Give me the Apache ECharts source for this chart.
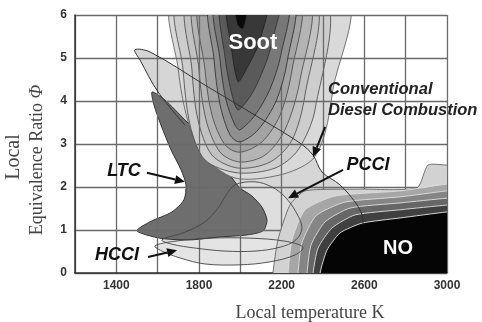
<!DOCTYPE html>
<html><head><meta charset="utf-8">
<script src="https://cdn.jsdelivr.net/npm/echarts@6/dist/echarts.min.js"></script>
<style>html,body{margin:0;padding:0;background:#fff}#c{width:482px;height:322px}</style>
</head><body><div id="c"></div>
<script>
// Axis tick labels
const xTicks = [1400, 1800, 2200, 2600, 3000];
const yTicks = [0, 1, 2, 3, 4, 5, 6];

// Region outlines as [Temperature K, Equivalence ratio]
const lobe = [[1732,3.44],[1602,4.21],[1515,4.95],[1490,5.19],[1563,5.14],[1829,4.37],[2095,3.60],[2289,3.02],[2352,2.74],[2395,2.35],[2482,2.05],[2555,1.65],[2589,1.35],[2594,1.12],[2569,0.86],[2482,0.67],[2337,0.58],[2192,0.58],[2047,0.65],[1950,1.35],[1877,2.05],[1829,2.63]];
const pcci = [[1621,0.77],[1732,0.95],[1829,1.19],[1892,1.51],[1931,1.81],[1974,2.05],[2071,2.12],[2153,2.00],[2216,1.77],[2269,1.42],[2298,1.05],[2269,0.77],[2192,0.60],[2071,0.51],[1926,0.51],[1781,0.58],[1669,0.67]];
const hcci = [[1587,0.63],[1684,0.74],[1853,0.81],[2047,0.81],[2216,0.74],[2303,0.60],[2265,0.42],[2144,0.26],[1998,0.19],[1829,0.21],[1708,0.35],[1621,0.51]];
const ltc = [[1573,4.21],[1636,4.02],[1732,3.56],[1829,3.09],[1902,2.63],[1960,2.21],[1998,1.98],[2056,1.79],[2105,1.53],[2129,1.23],[2110,0.98],[2023,0.88],[1902,0.84],[1757,0.77],[1611,0.81],[1500,0.98],[1563,1.19],[1669,1.42],[1727,1.70],[1737,2.05],[1713,2.40],[1665,2.86],[1616,3.44],[1582,3.91]];
const soot0 = [[1682,6.4],[1700,4.72],[1745,3.56],[1820,2.74],[1974,2.21],[2192,2.28],[2347,2.63],[2410,3.26],[2448,4.26],[2510,6.4]];
const soot1 = [[1706,6.4],[1723,4.72],[1757,3.44],[1829,2.63],[1984,2.33],[2168,2.44],[2279,2.86],[2361,3.79],[2403,6.4]];
const soot2 = [[1755,6.4],[1766,4.72],[1795,3.56],[1863,2.74],[1989,2.44],[2144,2.58],[2250,3.09],[2313,4.14],[2355,6.4]];
const soot3 = [[1788,6.4],[1800,4.72],[1834,3.56],[1902,2.81],[1998,2.58],[2119,2.74],[2216,3.33],[2289,4.49],[2325,6.4]];
const soot4 = [[1813,6.4],[1829,4.72],[1863,3.67],[1926,2.98],[1998,2.81],[2105,3.05],[2192,3.67],[2250,4.72],[2280,6.4]];
const soot5 = [[1861,6.4],[1873,4.95],[1902,3.91],[1950,3.21],[1998,3.05],[2086,3.33],[2175,4.02],[2228,4.95],[2252,6.4]];
const soot6 = [[1885,6.4],[1902,4.95],[1931,4.02],[1974,3.44],[1998,3.33],[2071,3.67],[2142,4.26],[2196,5.07],[2224,6.4]];
const soot7 = [[1909,6.4],[1928,4.95],[1960,4.14],[1989,3.79],[2060,4.20],[2125,4.90],[2160,5.50],[2188,6.4]];
const soot8 = [[1936,6.4],[1955,5.30],[1989,4.45],[2030,4.75],[2090,5.35],[2132,6.4]];
const soot9 = [[1972,6.4],[1989,5.77],[2013,5.70],[2034,6.4]];
const no1 = [[2158,-0.4],[2158,0],[2182,0.77],[2240,1.58],[2313,1.91],[2579,1.95],[2855,1.98],[2908,2.51],[3000,2.51],[3100,2.51],[3100,-0.4]];
const no2 = [[2231,-0.4],[2231,0],[2250,0.77],[2313,1.47],[2458,1.79],[2773,1.91],[3000,2.07],[3100,2.1],[3100,-0.4]];
const no3 = [[2279,-0.4],[2279,0],[2298,0.70],[2366,1.33],[2507,1.65],[2773,1.77],[3000,1.91],[3100,1.94],[3100,-0.4]];
const no4 = [[2323,-0.4],[2323,0],[2342,0.65],[2410,1.19],[2531,1.51],[2773,1.63],[3000,1.74],[3100,1.77],[3100,-0.4]];
const no5 = [[2352,-0.4],[2352,0],[2376,0.58],[2444,1.05],[2555,1.35],[2773,1.47],[3000,1.58],[3100,1.61],[3100,-0.4]];
const no6 = [[2386,-0.4],[2386,0],[2419,0.53],[2482,0.93],[2589,1.16],[2773,1.28],[3000,1.42],[3100,1.45],[3100,-0.4]];

// Annotations
const labelText = ['Soot', 'NO', 'LTC', 'HCCI', 'PCCI', 'Conventional', 'Diesel Combustion'];
const labelPos = [[2061,5.35],[2763,0.58],[1437,2.37],[1403,0.42],[2618,2.51],[2424,4.26],[2424,3.79]];
const arrows = [[1548,2.33,1732,2.12],[1553,0.37,1694,0.53],[2497,2.40,2231,1.74],[2410,3.40,2352,2.70]];

const SANS = '"Liberation Sans", Arial, sans-serif';
const SERIF = '"Liberation Serif", "Times New Roman", serif';

function poly(pts, fill, stroke, lw, z, smooth) {
  return {
    type: 'custom', coordinateSystem: 'cartesian2d', z: z, silent: true, clip: true,
    data: [[pts[0][0], pts[0][1]]],
    renderItem: function (p, api) {
      return { type: 'polygon', shape: { points: pts.map(function (q) { return api.coord(q); }), smooth: smooth },
        style: { fill: fill, stroke: stroke, lineWidth: lw } };
    }
  };
}
function line(pts, stroke, lw, z, smooth) {
  return {
    type: 'custom', coordinateSystem: 'cartesian2d', z: z, silent: true, clip: true,
    data: [[pts[0][0], pts[0][1]]],
    renderItem: function (p, api) {
      return { type: 'polyline', shape: { points: pts.map(function (q) { return api.coord(q); }), smooth: smooth },
        style: { fill: 'none', stroke: stroke, lineWidth: lw } };
    }
  };
}

const labelStyle = {
  'Soot': { font: 'bold 22px ' + SANS, fill: '#ffffff', align: 'center' },
  'NO': { font: 'bold 20px ' + SANS, fill: '#ffffff', align: 'center' },
  'LTC': { font: 'italic bold 18px ' + SANS, fill: '#111', align: 'center' },
  'HCCI': { font: 'italic bold 18px ' + SANS, fill: '#111', align: 'center' },
  'PCCI': { font: 'italic bold 18px ' + SANS, fill: '#111', align: 'center' },
  'Conventional': { font: 'italic bold 16.5px ' + SANS, fill: '#222', align: 'left' },
  'Diesel Combustion': { font: 'italic bold 16.5px ' + SANS, fill: '#222', align: 'left' }
};

const series = [
  poly(lobe, '#d6d6d6', 'none', 0, 1, 0.35),
  poly(pcci, '#dedede', 'none', 0, 2, 0.35),
  poly(hcci, '#e4e4e4', 'none', 0, 3, 0.35),
  poly(ltc, '#6e6e6e', '#333', 1, 4, 0.25),
  poly(soot0, '#d9d9d9', '#555', 0.8, 5, 0.3),
  poly(soot1, '#cdcdcd', '#444', 0.8, 6, 0.3),
  poly(soot2, '#c2c2c2', '#444', 0.8, 7, 0.3),
  poly(soot3, '#b4b4b4', '#444', 0.8, 8, 0.3),
  poly(soot4, '#a3a3a3', '#444', 0.8, 9, 0.3),
  poly(soot5, '#8f8f8f', '#333', 0.9, 11, 0.3),
  poly(soot6, '#787878', '#333', 0.9, 12, 0.3),
  poly(soot7, '#5a5a5a', '#333', 0.9, 13, 0.25),
  poly(soot8, '#383838', '#222', 0.9, 14, 0.25),
  poly(soot9, '#0a0a0a', '#111', 0.8, 15, 0.3),
  poly(no1, '#d2d2d2', '#666', 0.9, 16, 0.2),
  poly(no2, '#a6a6a6', '#e0e0e0', 0.9, 17, 0.2),
  poly(no3, '#858585', '#e0e0e0', 0.9, 18, 0.2),
  poly(no4, '#666666', '#e0e0e0', 0.9, 19, 0.2),
  poly(no5, '#404040', '#e0e0e0', 0.9, 20, 0.2),
  poly(no6, '#050505', '#e8e8e8', 0.9, 21, 0.2),
  line(lobe.slice(0, 14), '#333', 1, 22, 0.35),
  poly(pcci, 'none', '#444', 0.9, 22, 0.35),
  poly(hcci, 'none', '#444', 0.9, 22, 0.35),
  {
    type: 'custom', coordinateSystem: 'cartesian2d', z: 25, silent: true,
    data: arrows,
    renderItem: function (p, api) {
      const a = api.coord([api.value(0), api.value(1)]);
      const b = api.coord([api.value(2), api.value(3)]);
      const dx = b[0] - a[0], dy = b[1] - a[1];
      const L = Math.sqrt(dx * dx + dy * dy), ux = dx / L, uy = dy / L;
      const hl = 10, hw = 4.5;
      const bx = b[0] - ux * hl, by = b[1] - uy * hl;
      return { type: 'group', children: [
        { type: 'line', shape: { x1: a[0], y1: a[1], x2: bx, y2: by }, style: { stroke: '#111', lineWidth: 2 } },
        { type: 'polygon', shape: { points: [[b[0], b[1]], [bx - uy * hw, by + ux * hw], [bx + uy * hw, by - ux * hw]] }, style: { fill: '#111' } }
      ] };
    }
  },
  {
    type: 'custom', coordinateSystem: 'cartesian2d', z: 26, silent: true,
    data: labelPos,
    renderItem: function (p, api) {
      const c = api.coord([api.value(0), api.value(1)]);
      const t = labelText[p.dataIndex];
      const s = labelStyle[t];
      return { type: 'text', x: c[0], y: c[1], style: { text: t, font: s.font, fill: s.fill, align: s.align, verticalAlign: 'middle' } };
    }
  }
];

const chart = echarts.init(document.getElementById('c'), null, { renderer: 'canvas' });
chart.setOption({
  animation: false,
  backgroundColor: '#ffffff',
  grid: { left: 75, top: 15, right: 35, bottom: 49, containLabel: false },
  xAxis: {
    type: 'value', min: 1200, max: 3000, interval: 200, z: 10,
    axisLine: { show: true, onZero: false, lineStyle: { color: '#333', width: 1.5 } },
    axisTick: { show: false },
    axisLabel: { margin: 7, color: '#333', fontWeight: 'bold', fontSize: 12, fontFamily: SANS,
      formatter: function (v) { return xTicks.indexOf(v) >= 0 ? String(v) : ''; } },
    splitLine: { show: true, lineStyle: { color: '#6a6a6a', width: 1.3 } }
  },
  yAxis: {
    type: 'value', min: 0, max: 6, interval: 1, z: 10,
    axisLine: { show: true, onZero: false, lineStyle: { color: '#333', width: 1.5 } },
    axisTick: { show: false },
    axisLabel: { margin: 8, color: '#333', fontWeight: 'bold', fontSize: 12, fontFamily: SANS,
      formatter: function (v) { return yTicks.indexOf(v) >= 0 ? String(v) : ''; } },
    splitLine: { show: true, lineStyle: { color: '#6a6a6a', width: 1.3 } }
  },
  graphic: [
    { type: 'text', x: 14, y: 157, rotation: Math.PI / 2, style: { text: 'Local', font: '20px ' + SERIF, fill: '#444', align: 'center', verticalAlign: 'middle' } },
    { type: 'text', x: 37, y: 160, rotation: Math.PI / 2, style: {
      text: '{n|Equivalence Ratio }{i|Φ}', align: 'center', verticalAlign: 'middle',
      rich: { n: { font: '18px ' + SERIF, fill: '#444' }, i: { font: 'italic 18px ' + SERIF, fill: '#444' } } } },
    { type: 'text', x: 310, y: 313, style: { text: 'Local temperature K', font: '18px ' + SERIF, fill: '#444', align: 'center', verticalAlign: 'middle' } }
  ],
  series: series
});
</script>
</body></html>
